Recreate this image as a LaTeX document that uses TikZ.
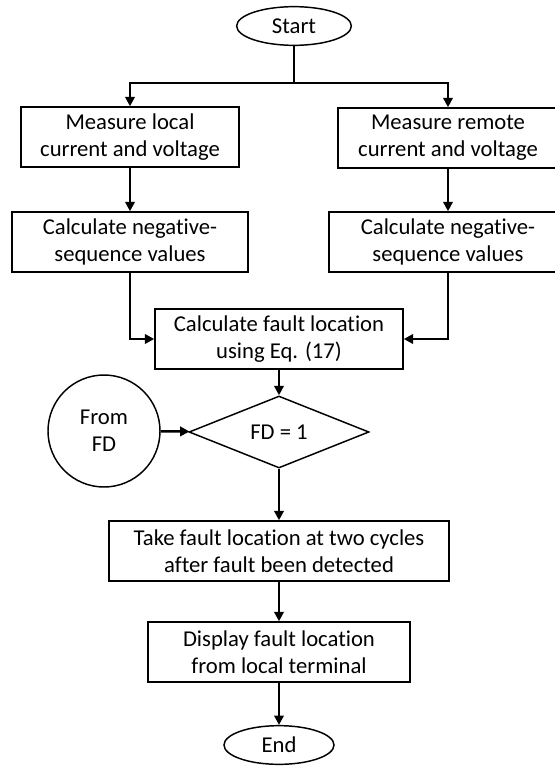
\documentclass[tikz,border=0pt]{standalone}
\usepackage{fontspec}
\setmainfont[Ligatures=NoCommon]{Carlito}
\usetikzlibrary{shapes.geometric,arrows.meta}

\begin{document}
\begin{tikzpicture}[x=0.75pt,y=-0.75pt,line width=1.1pt,
    font=\fontsize{17pt}{20.5pt}\selectfont,
    box/.style={draw,rectangle,align=center,minimum height=45pt,inner sep=2pt},
    term/.style={draw,ellipse,inner sep=0pt,minimum height=29pt},
    arr/.style={line width=1.8pt,-{Triangle[length=7pt,width=7pt]}}]
      \useasboundingbox (0,0) rectangle (555,767);
      \node[term,minimum width=86pt] (start) at (294,26) {Start};
      \node[box,minimum width=163.5pt] (local) at (130,137) {Measure local\\current and voltage};
      \node[box,minimum width=165pt] (remote) at (448,138) {Measure remote\\current and voltage};
      \node[box,minimum width=177pt] (negl) at (130,242) {Calculate negative-\\sequence values};
      \node[box,minimum width=178.5pt] (negr) at (448,242) {Calculate negative-\\sequence values};
      \node[box,minimum width=186pt] (loc) at (279,339) {Calculate fault location\\using Eq. (17)};
      \node[draw,diamond,inner sep=0pt,minimum width=135pt,minimum height=54pt] (fd) at (279,432) {FD = 1};
      \node[draw,circle,align=center,minimum size=84pt,inner sep=0pt] (from) at (104,431) {From\\FD};
      \node[box,minimum width=255pt] (take) at (279,551) {Take fault location at two cycles\\after fault been detected};
      \node[box,minimum width=196.5pt] (disp) at (279,652) {Display fault location\\from local terminal};
      \node[term,minimum width=82.5pt] (end) at (279,745) {End};
      \coordinate (split) at (294,83);
      \draw[line width=1.8pt] (start) -- (split);
      \draw[arr] (split) -| (local);
      \draw[arr] (split) -| (remote);
      \draw[arr] (local) -- (negl);
      \draw[arr] (remote) -- (negr);
      \draw[arr] (negl) |- (loc);
      \draw[arr] (negr) |- (loc);
      \draw[arr] (loc) -- (fd);
      \draw[arr] (from) -- (fd);
      \draw[arr] (fd) -- (take);
      \draw[arr] (take) -- (disp);
      \draw[arr] (disp) -- (end);
    \end{tikzpicture}
\end{document}
